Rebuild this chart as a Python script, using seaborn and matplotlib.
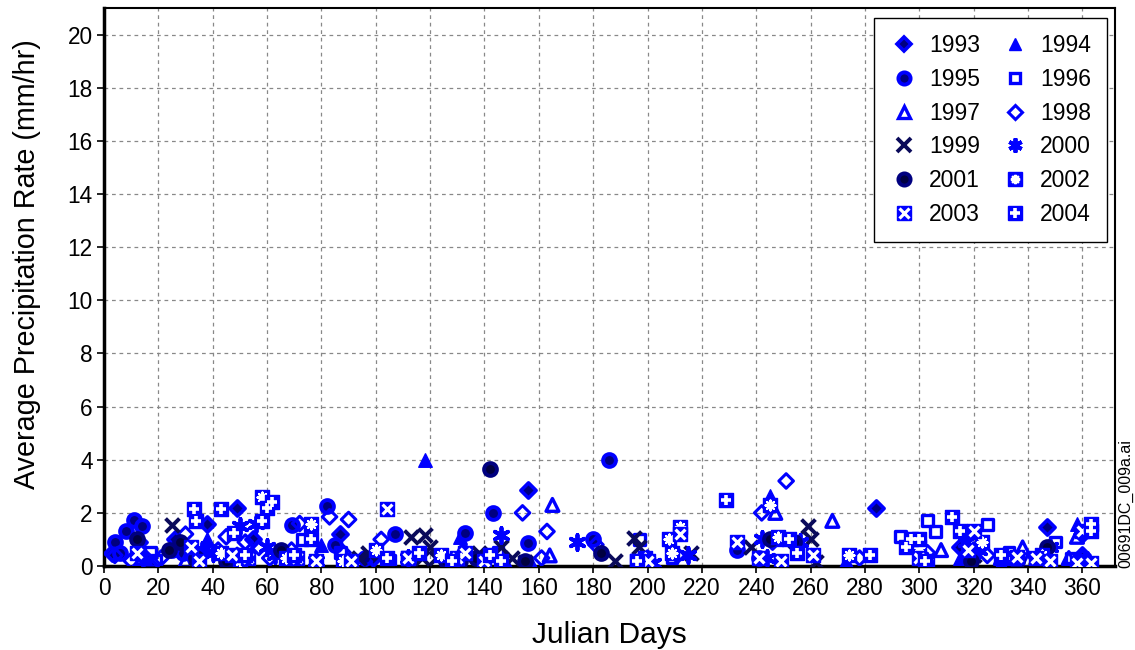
import numpy as np
import pandas as pd
import matplotlib
matplotlib.use("Agg")
import matplotlib.pyplot as plt
import seaborn as sns
from matplotlib.lines import Line2D
from matplotlib.legend_handler import HandlerTuple

# ---------------- data (Julian day, mm/hr) ----------------
d1993 = [3, 13, 15, 17, 26, 38, 49, 55, 87, 99, 156, 284, 315, 347, 360, 360]
v1993 = [0.5, 0.9, 0.3, 0.0, 1.0, 1.6, 2.2, 1.0, 1.2, 0.3, 2.85, 2.2, 0.7, 1.45, 1.2, 0.4]

d1994 = [15, 38, 80, 118, 131, 132, 148, 157, 245, 273, 315, 330, 358, 362]
v1994 = [0.3, 1.0, 0.8, 4.0, 1.1, 0.8, 0.1, 0.1, 2.65, 0.2, 0.3, 0.1, 1.6, 0.3]

d1995 = [4, 6, 8, 11, 14, 25, 29, 69, 82, 85, 96, 107, 133, 143, 156, 180, 186, 233, 241]
v1995 = [0.9, 0.5, 1.3, 1.75, 1.5, 0.6, 0.5, 1.55, 2.25, 0.8, 0.3, 1.2, 1.25, 2.0, 0.85, 1.0, 4.0, 0.6, 0.3]

d1996 = [17, 19, 73, 87, 105, 145, 197, 209, 248, 293, 301, 303, 306, 325, 333, 350, 356, 359]
v1996 = [0.5, 0.2, 1.0, 0.5, 0.2, 0.5, 1.0, 0.3, 1.0, 1.1, 0.3, 1.7, 1.3, 1.55, 0.5, 0.9, 0.3, 0.2]

d1997 = [14, 30, 165, 164, 247, 268, 300, 308, 320, 330, 338, 340, 355, 358]
v1997 = [0.3, 0.2, 2.3, 0.4, 2.0, 1.7, 0.2, 0.6, 1.0, 0.3, 0.7, 0.2, 0.3, 1.1]

d1998 = [4, 10, 21, 30, 36, 42, 45, 49, 52, 57, 61, 69, 72, 83, 88, 90, 102, 132, 154,
         163, 161, 181, 200, 211, 242, 246, 251, 278, 298, 303, 320, 325, 345, 360]
v1998 = [0.4, 0.2, 0.3, 1.2, 0.4, 0.6, 1.1, 0.4, 0.9, 0.7, 0.3, 0.6, 1.6, 1.85, 0.5, 1.75, 1.0, 0.3, 2.0,
         1.3, 0.3, 0.8, 0.3, 0.4, 2.0, 0.9, 3.2, 0.3, 0.8, 0.5, 0.6, 0.4, 0.3, 0.3]

d1999 = [25, 34, 94, 97, 113, 118, 120, 117, 122, 138, 146, 150, 155, 188, 195, 197, 216,
         238, 259, 260, 262, 320]
v1999 = [1.55, 0.3, 0.3, 0.5, 1.1, 1.15, 0.7, 0.3, 0.3, 0.5, 0.7, 0.3, 0.15, 0.2, 1.05, 0.7, 0.5,
         0.7, 1.5, 1.0, 0.15, 0.4]

d2000 = [36, 40, 50, 56, 60, 63, 78, 112, 146, 174, 202, 215, 242, 244, 256, 317, 322, 348]
v2000 = [0.6, 0.5, 1.5, 1.6, 0.7, 0.4, 0.2, 0.3, 1.15, 0.9, 0.1, 0.4, 1.0, 0.3, 0.9, 0.9, 0.6, 0.7]

d2001 = [12, 24, 28, 34, 45, 65, 126, 131, 137, 142, 155, 183, 245, 254, 319, 336, 347]
v2001 = [1.0, 0.6, 0.9, 0.3, 0.2, 0.6, 0.2, 0.2, 0.3, 3.65, 0.2, 0.5, 1.0, 0.9, 0.2, 0.2, 0.7]

d2002 = [43, 50, 58, 67, 76, 88, 100, 112, 124, 199, 208, 209, 212, 245, 248, 274, 300, 323, 335, 345]
v2002 = [0.5, 0.2, 2.6, 0.3, 1.6, 0.2, 0.6, 0.3, 0.4, 0.3, 1.0, 0.5, 1.45, 2.3, 1.1, 0.4, 0.7, 0.9, 0.3, 0.4]

d2003 = [12, 32, 35, 47, 53, 71, 78, 91, 104, 112, 130, 133, 140, 196, 200, 212, 233, 241, 249,
         261, 300, 303, 318, 320, 336, 343, 348, 358, 363, 360]
v2003 = [0.5, 0.7, 0.2, 0.4, 0.3, 0.3, 0.2, 0.2, 2.15, 0.3, 0.3, 0.5, 0.2, 0.2, 0.2, 1.2, 0.9, 0.3, 0.2,
         0.4, 0.3, 0.1, 0.6, 1.3, 0.35, 0.3, 0.2, 0.1, 0.1, 1.3]

d2004 = [33, 34, 43, 48, 52, 58, 60, 62, 70, 76, 104, 116, 128, 142, 146, 196, 229, 252, 255,
         282, 295, 297, 300, 302, 312, 315, 330, 363, 363]
v2004 = [2.15, 1.7, 2.15, 1.25, 0.4, 1.7, 2.2, 2.4, 0.4, 1.0, 0.3, 0.5, 0.2, 0.4, 0.2, 0.2, 2.5, 1.0, 0.5,
         0.4, 0.7, 1.0, 1.0, 0.2, 1.85, 1.3, 0.4, 1.6, 1.3]

years = ["1993", "1994", "1995", "1996", "1997", "1998", "1999", "2000", "2001", "2002", "2003", "2004"]
days = [d1993, d1994, d1995, d1996, d1997, d1998, d1999, d2000, d2001, d2002, d2003, d2004]
vals = [v1993, v1994, v1995, v1996, v1997, v1998, v1999, v2000, v2001, v2002, v2003, v2004]

x_ticks = list(range(0, 361, 20))
y_ticks = list(range(0, 21, 2))

# ---------------- styling ----------------
BLUE = "#0000FF"
NAVY = "#000080"
DNAVY = "#0A0A5A"

# each style: list of layers (marker, size, facecolor, edgecolor, linewidth)
styles = {
    "1993": [("D", 60, NAVY, BLUE, 2.6)],
    "1994": [("^", 95, BLUE, BLUE, 1.0)],
    "1995": [("o", 85, NAVY, BLUE, 2.8)],
    "1996": [("s", 60, "none", BLUE, 2.4)],
    "1997": [("^", 85, "none", BLUE, 2.4)],
    "1998": [("D", 55, "none", BLUE, 2.2)],
    "1999": [("x", 100, DNAVY, DNAVY, 2.8)],
    "2000": [((6, 2, 0), 115, BLUE, BLUE, 2.8)],
    "2001": [("o", 85, "#000040", NAVY, 2.8)],
    "2002": [("s", 100, BLUE, BLUE, 1.0), ((8, 2, 0), 50, "white", "white", 1.6)],
    "2003": [("s", 100, BLUE, BLUE, 1.0), ("x", 50, "white", "white", 2.3)],
    "2004": [("s", 100, BLUE, BLUE, 1.0), ("+", 55, "white", "white", 2.6)],
}

sns.set_theme(style="white")
plt.rcParams["font.family"] = ["Liberation Sans", "DejaVu Sans"]
plt.rcParams["text.color"] = "black"
plt.rcParams["axes.labelcolor"] = "black"

fig = plt.figure(figsize=(11.35, 6.5), dpi=100)
ax = fig.add_axes([0.0916, 0.1292, 0.8908, 0.8585])

for yr, dd, vv in zip(years, days, vals):
    df = pd.DataFrame({"day": dd, "rate": vv})
    for (mk, s, fc, ec, lw) in styles[yr]:
        sns.scatterplot(data=df, x="day", y="rate", ax=ax, marker=mk, s=s,
                        color=fc if fc != "none" else ec, facecolor=fc, edgecolor=ec,
                        linewidth=lw, zorder=3, legend=False)

ax.set_xlim(0, 372)
ax.set_ylim(0, 21)
ax.set_xticks(x_ticks)
ax.set_yticks(y_ticks)
ax.tick_params(axis="both", labelsize=16.3, direction="out", length=5, width=1.2,
               colors="black", bottom=True, left=True, pad=3)
ax.grid(True, linestyle=(0, (3, 3)), color="#888888", linewidth=0.9)
ax.set_axisbelow(True)
for side in ["top", "right"]:
    ax.spines[side].set_color("black")
    ax.spines[side].set_linewidth(1.5)
for side in ["left", "bottom"]:
    ax.spines[side].set_color("black")
    ax.spines[side].set_linewidth(2.5)

ax.set_xlabel("Julian Days", fontsize=21.5, color="black")
ax.set_ylabel("Average Precipitation Rate (mm/hr)", fontsize=20.7, color="black")
ax.xaxis.set_label_coords(0.4995, -0.098)
ax.yaxis.set_label_coords(-0.062, 0.541)

# legend (row-wise order: matplotlib fills columns first)
handles = []
for yr in years:
    parts = []
    for (mk, s, fc, ec, lw) in styles[yr]:
        parts.append(Line2D([], [], linestyle="none", marker=mk, markersize=np.sqrt(s) * 0.95,
                            markerfacecolor=fc, markeredgecolor=ec, markeredgewidth=lw))
    handles.append(tuple(parts) if len(parts) > 1 else parts[0])

order = [0, 2, 4, 6, 8, 10, 1, 3, 5, 7, 9, 11]
leg = ax.legend([handles[i] for i in order], [years[i] for i in order], ncol=2,
                loc="upper right", bbox_to_anchor=(0.992, 0.982), borderaxespad=0,
                fontsize=16.5, frameon=True, fancybox=False, edgecolor="black",
                framealpha=1, handler_map={tuple: HandlerTuple(ndivide=1, pad=0)},
                handlelength=1.2, handletextpad=0.5, columnspacing=0.9, labelspacing=0.47,
                borderpad=0.7)
leg.get_frame().set_linewidth(1.0)
leg.set_zorder(5)
for t in leg.get_texts():
    t.set_color("black")

fig.text(0.9915, 0.225, "00691DC_009a.ai", rotation=90, fontsize=11.5, ha="center",
         va="center", color="black")

fig.savefig("out.png", dpi=100)
